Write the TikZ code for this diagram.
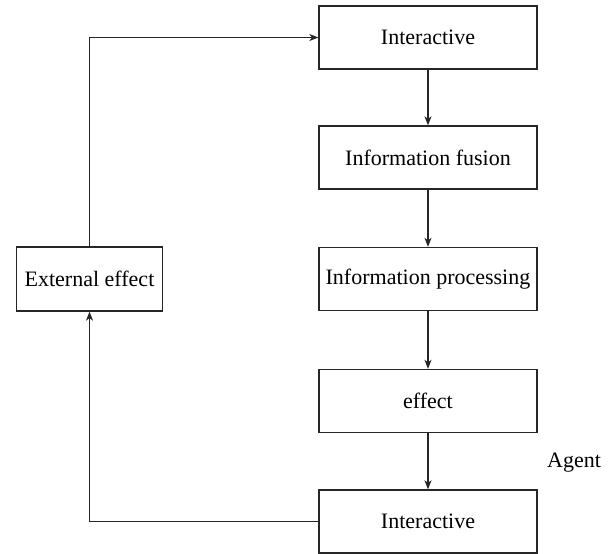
\documentclass[tikz,border=0pt]{standalone}
\usepackage{fontspec}
\setmainfont{Liberation Serif}
\usetikzlibrary{arrows.meta}
\begin{document}
\begin{tikzpicture}[x=1pt,y=1pt,
  lbl/.style={font=\fontsize{22}{26}\selectfont},
  box/.style={draw=black!85, line width=1.3pt, minimum width=218pt, minimum height=63pt, inner sep=0pt, lbl},
  conn/.style={draw=black!85, line width=1.2pt, -{Stealth[length=9pt,width=7pt,inset=2.5pt]}}]
\useasboundingbox (0,0) rectangle (608,554);
\node[box] (top) at (428,516.5) {Interactive};
\node[box] (fus) at (428,396.5) {Information fusion};
\node[box] (proc) at (428,275) {Information processing};
\node[box] (eff) at (428,153) {effect};
\node[box] (bot) at (428,32.5) {Interactive};
\node[box, minimum width=146pt, minimum height=64pt] (ext) at (89.5,275) {External effect};
\node[lbl, inner sep=0pt] (agent) at (574,91) {Agent};
\draw[conn] (top) -- (fus);
\draw[conn] (fus) -- (proc);
\draw[conn] (proc) -- (eff);
\draw[conn] (eff) -- (bot);
\draw[conn] (ext.north) |- (top.west);
\draw[conn] (bot.west) -| (ext.south);
\end{tikzpicture}
\end{document}
